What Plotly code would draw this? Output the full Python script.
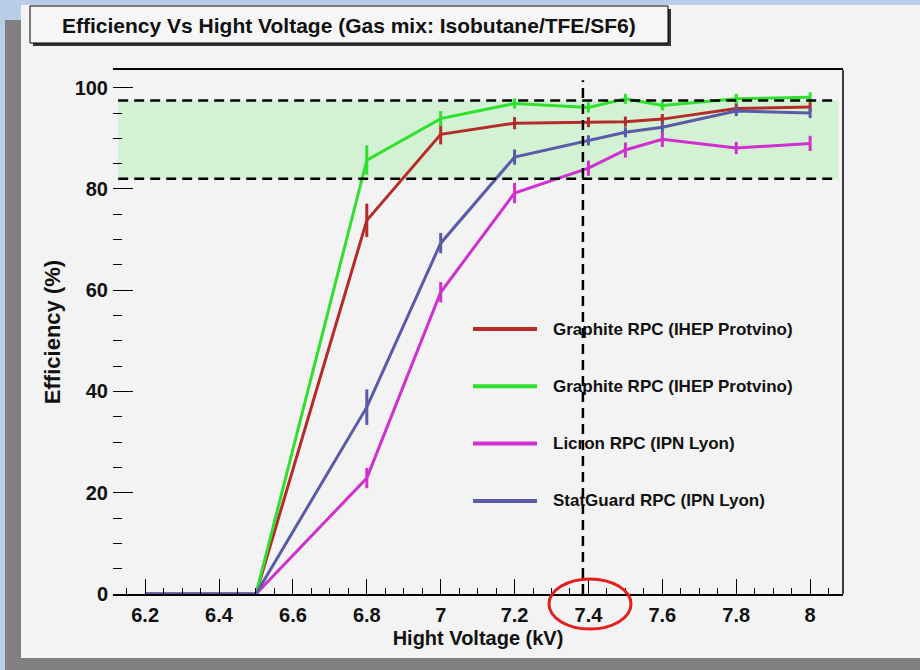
import plotly.graph_objects as go

# ---------------- data ----------------
hv_kv = [6.2, 6.5, 6.8, 7.0, 7.2, 7.4, 7.5, 7.6, 7.8, 8.0]

graphite_a = [0, 0, 73.8, 90.8, 93.0, 93.2, 93.3, 93.8, 95.9, 96.2]
graphite_a_err = [0, 0, 3.3, 2.0, 1.2, 1.0, 1.0, 1.0, 1.0, 1.0]
graphite_b = [0, 0, 85.7, 93.9, 96.9, 96.1, 97.8, 96.5, 97.8, 98.1]
graphite_b_err = [0, 0, 2.9, 1.5, 1.0, 1.0, 1.0, 1.0, 1.0, 1.0]
licron = [0, 0, 22.9, 59.6, 79.2, 84.1, 87.7, 89.8, 88.1, 89.0]
licron_err = [0, 0, 2.0, 2.0, 2.0, 1.5, 1.5, 1.5, 1.2, 1.5]
statguard = [0, 0, 36.9, 69.3, 86.3, 89.6, 91.2, 92.2, 95.4, 95.0]
statguard_err = [0, 0, 3.5, 2.0, 1.5, 1.0, 1.0, 1.0, 1.0, 1.0]

series_names = [
    "Graphite RPC (IHEP Protvino)",
    "Graphite RPC (IHEP Protvino)",
    "Licron RPC (IPN Lyon)",
    "StatGuard RPC (IPN Lyon)",
]
series_values = [graphite_a, graphite_b, licron, statguard]
series_errors = [graphite_a_err, graphite_b_err, licron_err, statguard_err]
series_colors = ["#b52b2a", "#2fe02f", "#d030d0", "#5a5aa8"]

band_low, band_high = 82.0, 97.5
band_x0, band_x1 = 6.127, 8.076
hv_marker = 7.385
x_range = [6.113, 8.089]
y_range = [0, 103.5]

title_text = "Efficiency Vs Hight Voltage (Gas mix: Isobutane/TFE/SF6)"
x_title = "Hight Voltage (kV)"
y_title = "Efficiency (%)"

# ---------------- layout helpers (pixel -> paper) ----------------
W, H = 920, 670
L, R, T, B = 113, 843, 70, 594


def px(xp):
    return (xp - L) / (R - L)


def py(yp):
    return (B - yp) / (B - T)


FONT = "Liberation Sans"

fig = go.Figure()
for name, vals, errs, col in zip(series_names, series_values, series_errors, series_colors):
    fig.add_trace(go.Scatter(
        x=hv_kv, y=vals, name=name, mode="lines",
        line=dict(color=col, width=3),
        error_y=dict(type="data", array=errs, visible=True, color=col,
                     thickness=3, width=0),
        showlegend=False,
    ))

shapes = []
# outer frame / panel
shapes.append(dict(type="rect", xref="paper", yref="paper", layer="below",
                   x0=px(21), x1=px(920), y0=py(658), y1=py(5),
                   fillcolor="#f3f3f3", line=dict(width=0)))
shapes.append(dict(type="rect", xref="paper", yref="paper", layer="below",
                   x0=px(5), x1=px(21), y0=py(670), y1=py(20),
                   fillcolor="#808080", line=dict(width=0)))
shapes.append(dict(type="rect", xref="paper", yref="paper", layer="below",
                   x0=px(5), x1=px(920), y0=py(670), y1=py(658),
                   fillcolor="#808080", line=dict(width=0)))
# efficiency band
shapes.append(dict(type="rect", xref="x", yref="y", layer="below",
                   x0=band_x0, x1=band_x1, y0=band_low, y1=band_high,
                   fillcolor="#d3f2d3", line=dict(width=0)))
for yv in (band_low, band_high):
    shapes.append(dict(type="line", xref="x", yref="y", layer="above",
                       x0=band_x0, x1=band_x1, y0=yv, y1=yv,
                       line=dict(color="black", width=2.5, dash="10px,6px")))
shapes.append(dict(type="line", xref="x", yref="y", layer="above",
                   x0=hv_marker, x1=hv_marker, y0=0, y1=101.5,
                   line=dict(color="black", width=2.5, dash="10px,6px")))
# right frame line
shapes.append(dict(type="line", xref="paper", yref="paper", layer="above",
                   x0=1, x1=1, y0=0, y1=1, line=dict(color="black", width=1.5)))
# title box with shadow
shapes.append(dict(type="rect", xref="paper", yref="paper", layer="above",
                   x0=px(33), x1=px(671), y0=py(46), y1=py(9),
                   fillcolor="#333333", line=dict(width=0)))
shapes.append(dict(type="rect", xref="paper", yref="paper", layer="above",
                   x0=px(30), x1=px(668), y0=py(43), y1=py(6),
                   fillcolor="#f6f6f6", line=dict(color="black", width=1)))
# red highlight ellipse
shapes.append(dict(type="circle", xref="paper", yref="paper", layer="above",
                   x0=px(549), x1=px(631), y0=py(629), y1=py(579),
                   line=dict(color="#e3201c", width=3)))

annotations = [dict(text=title_text, xref="paper", yref="paper",
                    x=px(349), y=py(25), showarrow=False,
                    xanchor="center", yanchor="middle",
                    font=dict(family=FONT, size=21, color="#111111", weight="bold"))]

# manual legend
leg_y0, leg_dy = 329, 57.3
for i, (name, col) in enumerate(zip(series_names, series_colors)):
    yy = leg_y0 + i * leg_dy
    shapes.append(dict(type="line", xref="paper", yref="paper", layer="above",
                       x0=px(473), x1=px(537), y0=py(yy), y1=py(yy),
                       line=dict(color=col, width=4)))
    annotations.append(dict(text=name, xref="paper", yref="paper",
                            x=px(551), y=py(yy), showarrow=False,
                            xanchor="left", yanchor="middle",
                            font=dict(family=FONT, size=17, color="#111111",
                                      weight="bold")))

tickfont = dict(family=FONT, size=20, color="#111111", weight="bold")
fig.update_layout(
    width=W, height=H,
    margin=dict(l=L, r=W - R, t=T, b=H - B, pad=0),
    paper_bgcolor="#b9cde9",
    plot_bgcolor="rgba(0,0,0,0)",
    shapes=shapes,
    annotations=annotations,
    xaxis=dict(range=x_range, dtick=0.2, tick0=0, showgrid=False, zeroline=False,
               showline=True, linecolor="black", linewidth=1.5, mirror=True,
               ticks="inside", ticklen=15, tickwidth=1.2, tickcolor="black",
               minor=dict(dtick=0.05, ticks="inside", ticklen=6, tickcolor="black",
                          tickwidth=1.2, showgrid=False),
               tickfont=tickfont, ticklabelstandoff=2,
               title=dict(text=x_title, standoff=6,
                          font=dict(family=FONT, size=20, color="#111111",
                                    weight="bold"))),
    yaxis=dict(range=y_range, dtick=20, tick0=0, showgrid=False, zeroline=False,
               showline=False,
               ticks="inside", ticklen=20, tickwidth=1.2, tickcolor="black",
               minor=dict(dtick=5, ticks="inside", ticklen=9, tickcolor="black",
                          tickwidth=1.2, showgrid=False),
               tickfont=tickfont, ticklabelstandoff=4,
               title=dict(text=y_title, standoff=7,
                          font=dict(family=FONT, size=22, color="#111111",
                                    weight="bold"))),
)

fig.write_html("out.html")
